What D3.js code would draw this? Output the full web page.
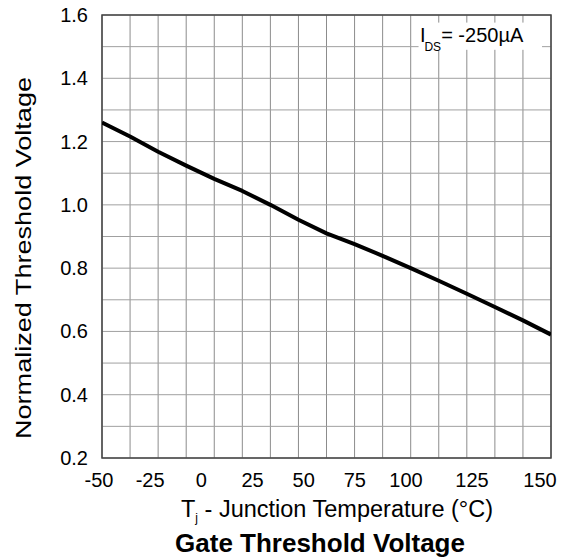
<!DOCTYPE html>
<html>
<head>
<meta charset="utf-8">
<script src="https://cdnjs.cloudflare.com/ajax/libs/d3/7.8.5/d3.min.js"></script>
<style>
  body { margin: 0; background: #fff; }
  text { font-family: "Liberation Sans", Arial, sans-serif; fill: #000; }
</style>
</head>
<body>
<div id="chart"></div>
<script>
// junction temperature (°C) and normalized Vth
const tempC = [-50, -37.5, -25, -12.5, 0, 12.5, 25, 37.5, 50, 62.5, 75, 87.5, 100, 112.5, 125, 137.5, 150];
const vthNorm = [1.260, 1.216, 1.168, 1.124, 1.082, 1.044, 1.000, 0.953, 0.910, 0.876, 0.839, 0.800, 0.760, 0.719, 0.677, 0.635, 0.590];

const xTickLabels = [-50, -25, 0, 25, 50, 75, 100, 125, 150];
const yTickLabels = [0.2, 0.4, 0.6, 0.8, 1.0, 1.2, 1.4, 1.6];

const width = 569, height = 559;
const margin = { top: 15, right: 18, bottom: 101, left: 102 };

let svg = d3.select("#chart")
  .append("svg")
  .attr("width", width)
  .attr("height", height);

let x = d3.scaleLinear().domain([-50, 150]).range([margin.left, width - margin.right]);
let y = d3.scaleLinear().domain([0.2, 1.6]).range([height - margin.bottom, margin.top]);

// the printed labels don't sit on their grid lines in the original, so they get their own scale
let xLabel = d3.scaleLinear().domain([-50, 100, 125, 150]).range([99, 406, 472, 540]);

// grid: 16 columns (12.5 °C) and 14 rows (0.1)
let xGrid = d3.range(-50, 150.1, 12.5);
let yGrid = d3.range(0.2, 1.601, 0.1);

let grid = svg.append("g").attr("class", "grid");

grid.selectAll(".vline")
  .data(xGrid)
  .enter().append("line")
  .attr("x1", d => x(d)).attr("x2", d => x(d))
  .attr("y1", y(0.2)).attr("y2", y(1.6))
  .attr("stroke", "#8c8c8c")
  .attr("stroke-width", 1);

grid.selectAll(".hline")
  .data(yGrid)
  .enter().append("line")
  .attr("x1", x(-50)).attr("x2", x(150))
  .attr("y1", d => y(d)).attr("y2", d => y(d))
  .attr("stroke", "#a0a0a0")
  .attr("stroke-width", 1);

// white box behind the test condition
svg.append("rect")
  .attr("x", x(91))
  .attr("y", y(1.576))
  .attr("width", x(146) - x(91))
  .attr("height", y(1.49) - y(1.576))
  .attr("fill", "#fff");

// frame
svg.append("rect")
  .attr("x", x(-50))
  .attr("y", y(1.6))
  .attr("width", x(150) - x(-50))
  .attr("height", y(0.2) - y(1.6))
  .attr("fill", "none")
  .attr("stroke", "#444")
  .attr("stroke-width", 1.5);

svg.append("clipPath").attr("id", "plot-clip")
  .append("rect")
  .attr("x", x(-50)).attr("y", y(1.6))
  .attr("width", x(150) - x(-50)).attr("height", y(0.2) - y(1.6));

let line = d3.line()
  .x(d => x(d[0]))
  .y(d => y(d[1]));

svg.append("path")
  .datum(d3.zip(tempC, vthNorm))
  .attr("d", line)
  .attr("clip-path", "url(#plot-clip)")
  .attr("fill", "none")
  .attr("stroke", "#000")
  .attr("stroke-width", 4)
  .attr("stroke-linejoin", "round");

// tick labels
svg.selectAll(".xlabel")
  .data(xTickLabels)
  .enter().append("text")
  .attr("x", d => xLabel(d))
  .attr("y", y(0.2) + 29)
  .attr("text-anchor", "middle")
  .attr("font-size", 20)
  .text(d => d);

svg.selectAll(".ylabel")
  .data(yTickLabels)
  .enter().append("text")
  .attr("x", x(-50) - 14)
  .attr("y", d => y(d))
  .attr("dy", "0.35em")
  .attr("text-anchor", "end")
  .attr("font-size", 20)
  .text(d => d.toFixed(1));

// test condition
let cond = svg.append("text")
  .attr("x", x(91.6))
  .attr("y", y(1.514))
  .attr("font-size", 20);
cond.append("tspan").text("I");
cond.append("tspan").attr("font-size", 12).attr("dx", -1).attr("dy", 9).text("DS");
cond.append("tspan").attr("dy", -9).text("= -250\u00b5A");

// axis titles
let xTitle = svg.append("text")
  .attr("x", 181)
  .attr("y", 517)
  .attr("font-size", 23.5);
xTitle.append("tspan").text("T");
xTitle.append("tspan").attr("font-size", 12).attr("dy", 5).text("j");
xTitle.append("tspan").attr("dy", -5).text(" - Junction Temperature (\u00b0C)");

svg.append("text")
  .attr("transform", "translate(31,258) rotate(-90)")
  .attr("text-anchor", "middle")
  .attr("font-size", 22)
  .attr("textLength", 362)
  .attr("lengthAdjust", "spacingAndGlyphs")
  .text("Normalized Threshold Voltage");

svg.append("text")
  .attr("x", 320)
  .attr("y", 552)
  .attr("text-anchor", "middle")
  .attr("font-size", 26)
  .attr("font-weight", "bold")
  .text("Gate Threshold Voltage");
</script>
</body>
</html>
